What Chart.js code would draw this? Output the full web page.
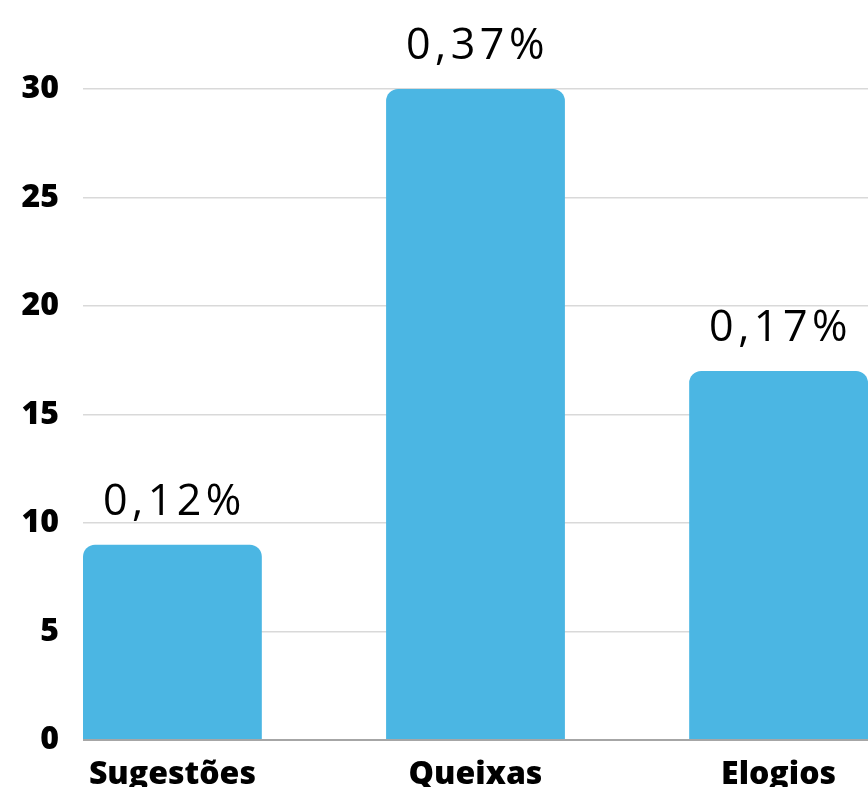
<!DOCTYPE html>
<html lang="pt">
<head>
<meta charset="utf-8">
<title>Sugestões, Queixas e Elogios</title>
<script src="https://cdn.jsdelivr.net/npm/chart.js@4.4.1/dist/chart.umd.min.js"></script>
<style>
  html, body { margin: 0; padding: 0; background: #fff; overflow: hidden; }
  #wrap { position: relative; width: 868px; height: 787px; }
</style>
</head>
<body>
<div id="wrap"><canvas id="grafico"></canvas></div>
<script>
// Données du graphique
const categorias = ['Sugestões', 'Queixas', 'Elogios'];
const valores = [9, 30, 17];
const percentagens = ['0,12%', '0,37%', '0,17%'];
const ticksY = [0, 5, 10, 15, 20, 25, 30];

// Étiquettes au-dessus des barres
const rotulosBarras = {
  id: 'rotulosBarras',
  afterDatasetsDraw(chart) {
    const ctx = chart.ctx;
    const meta = chart.getDatasetMeta(0);
    ctx.save();
    ctx.font = '400 43px "Open Sans", sans-serif';
    ctx.letterSpacing = '4.5px';
    ctx.fillStyle = '#000';
    ctx.textAlign = 'center';
    ctx.textBaseline = 'alphabetic';
    meta.data.forEach((bar, i) => {
      ctx.fillText(percentagens[i], bar.x + 2, bar.y - 30);
    });
    ctx.restore();
  }
};

const ctx = document.getElementById('grafico');
new Chart(ctx, {
  type: 'bar',
  data: {
    datasets: [{
      data: valores.map((v, i) => ({ x: i, y: v })),
      backgroundColor: '#4bb6e3',
      borderWidth: 0,
      borderRadius: 12,
      borderSkipped: 'start',
      categoryPercentage: 1,
      barPercentage: 0.59
    }]
  },
  options: {
    responsive: true,
    maintainAspectRatio: false,
    animation: false,
    layout: { padding: { top: 89, left: 22, right: 0, bottom: 0 } },
    plugins: {
      legend: { display: false },
      tooltip: { enabled: false }
    },
    scales: {
      x: {
        type: 'linear',
        offset: false,
        min: -0.295,
        max: 2.295,
        afterBuildTicks: (axis) => {
          axis.ticks = categorias.map((c, i) => ({ value: i }));
        },
        afterFit: (axis) => {
          // pas de marge pour les étiquettes, le bas est coupé comme l'original
          axis.paddingLeft = 0;
          axis.paddingRight = 0;
          axis.height = 47;
        },
        grid: { display: false, drawTicks: false },
        border: { display: false },
        ticks: {
          padding: 16,
          maxRotation: 0,
          autoSkip: false,
          color: '#000',
          font: { family: '"Open Sans", sans-serif', size: 32, weight: 800 },
          callback: (v) => categorias[v]
        }
      },
      y: {
        min: 0,
        max: 30,
        afterBuildTicks: (axis) => {
          axis.ticks = ticksY.map(v => ({ value: v }));
        },
        afterFit: (axis) => {
          axis.width = 61;
        },
        grid: {
          drawTicks: false,
          color: (c) => c.tick && c.tick.value === 0 ? '#a6a6a6' : '#d9d9d9',
          lineWidth: (c) => c.tick && c.tick.value === 0 ? 2 : 1.5
        },
        border: { display: false },
        ticks: {
          padding: 24,
          color: '#000',
          font: { family: '"Open Sans", sans-serif', size: 32, weight: 800 }
        }
      }
    }
  },
  plugins: [rotulosBarras]
});
</script>
</body>
</html>
